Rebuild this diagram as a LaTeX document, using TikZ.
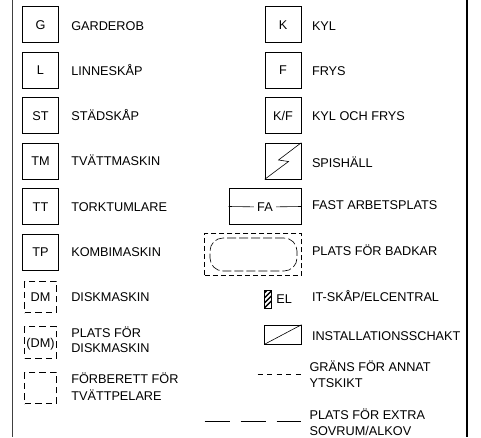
\documentclass[tikz,border=0pt]{standalone}
\usepackage{fontspec}
\setmainfont{Liberation Sans}
\usetikzlibrary{positioning}

\begin{document}
\begin{tikzpicture}[
    x=1pt,y=-1pt,
    line width=0.6pt,
    font=\fontsize{12.7}{15.5}\selectfont
]
\tikzset{
    mybox/.style = {rectangle, draw=black, minimum size=36pt, inner sep=0pt, text height=9pt, text depth=0pt},
    mydash/.style = {rectangle, draw=black, dash pattern=on 6.5pt off 4pt, minimum size=31.5pt, inner sep=0pt, text height=9pt, text depth=0pt},
    mytext/.style = {anchor=base west, align=left, inner sep=0pt},
    edgen/.style = {line width=0.6pt}
}
\useasboundingbox (0,0) rectangle (481,437);
% frame
\coordinate (tl) at (12.8,0);
\coordinate (bl) at (12.8,437);
\coordinate (tr) at (466.7,0);
\coordinate (br) at (466.7,437);
\draw[line width=1pt,black!75] (tl) -- (bl);
\draw[line width=1.6pt] (tr) -- (br);
% left column
\node[mybox]  at (40.5,24.5) (g) {G};
\node[mybox]  at (40.5,70) (l) {L};
\node[mybox]  at (40.5,115.5) (st) {ST};
\node[mybox]  at (40.5,161) (tm) {TM};
\node[mybox]  at (40.5,206.5) (tt) {TT};
\node[mybox]  at (40.5,252) (tp) {TP};
\node[mydash] at (40.5,297) (dm) {DM};
\node[mydash] at (40.5,342.5) (pdm) {(DM)};
\node[mydash] at (40.5,388) (ft) {};
\node[mytext] at (71,30) (gt) {GARDEROB};
\node[mytext] at (71,75) (lt) {LINNESKÅP};
\node[mytext] at (71,120) (stt) {STÄDSKÅP};
\node[mytext] at (71,165.3) (tmt) {TVÄTTMASKIN};
\node[mytext] at (71,211.5) (ttt) {TORKTUMLARE};
\node[mytext] at (71,256.7) (tpt) {KOMBIMASKIN};
\node[mytext] at (71,301.7) (dmt) {DISKMASKIN};
\node[mytext] at (71,337.7) (pdmt) {PLATS FÖR};
\node[mytext] at (71,352.7) (pdmu) {DISKMASKIN};
\node[mytext] at (71,383.3) (ftt) {FÖRBERETT FÖR};
\node[mytext] at (71,400) (ftu) {TVÄTTPELARE};
% right column
\node[mybox]  at (283,24.5) (k) {K};
\node[mybox]  at (283,70) (f) {F};
\node[mybox]  at (283,115.5) (kf) {K/F};
\node[mybox]  at (283,161) (sp) {};
\draw[edgen] (sp.south west) -- (288.5,161.5) -- (278.5,160) -- (sp.north east);
\node[draw=black, minimum width=72pt, minimum height=36pt, inner sep=0pt] at (265,206.5) (fabox) {};
\node[inner sep=3pt] at (265,207) (fa) {FA};
\draw[edgen] (fabox.west) -- (fa);
\draw[edgen] (fa) -- (fabox.east);
\node[draw=black, dash pattern=on 5pt off 3pt, minimum width=96.5pt, minimum height=42.5pt] at (253,254.5) (bad) {};
\node[draw=black, dash pattern=on 9pt off 3pt, rounded corners=13pt, minimum width=87pt, minimum height=33pt] at (253.5,254.5) (kar) {};
\node[draw=black, minimum width=7.5pt, minimum height=18pt, inner sep=0pt, path picture={
    \foreach \i in {0,5,10,15,20}
        \draw[line width=1.4pt] ([yshift=\i pt]path picture bounding box.south west) -- ++(10pt,10pt);
}] at (268,299) (el) {};
\node[mytext] at (276,303.5) (elt) {EL};
\node[draw=black, minimum width=36.5pt, minimum height=19pt, inner sep=0pt] at (283,334.5) (sch) {};
\draw[edgen] (sch.south west) -- (sch.north east);
\coordinate (g1) at (257.5,374);
\coordinate (g2) at (301,374);
\draw[edgen, dash pattern=on 5pt off 4.6pt] (g1) -- (g2);
\coordinate (s1) at (204.5,421);
\coordinate (s2) at (301,421);
\draw[edgen, dash pattern=on 25pt off 11pt] (s1) -- (s2);
\node[mytext] at (311.7,30) (kt) {KYL};
\node[mytext] at (311.7,75) (ft2) {FRYS};
\node[mytext] at (311.7,120) (kft) {KYL OCH FRYS};
\node[mytext] at (311.7,167.7) (spt) {SPISHÄLL};
\node[mytext] at (311.7,209.3) (fat) {FAST ARBETSPLATS};
\node[mytext] at (311.7,255.7) (badt) {PLATS FÖR BADKAR};
\node[mytext] at (311.7,301.7) (elct) {IT-SKÅP/ELCENTRAL};
\node[mytext] at (311.7,340) (scht) {INSTALLATIONSSCHAKT};
\node[mytext] at (309.3,371.7) (gt2) {GRÄNS FÖR ANNAT};
\node[mytext] at (309.3,387.7) (gu2) {YTSKIKT};
\node[mytext] at (309.3,419.3) (st2) {PLATS FÖR EXTRA};
\node[mytext] at (309.3,435) (su2) {SOVRUM/ALKOV};
\end{tikzpicture}
\end{document}
